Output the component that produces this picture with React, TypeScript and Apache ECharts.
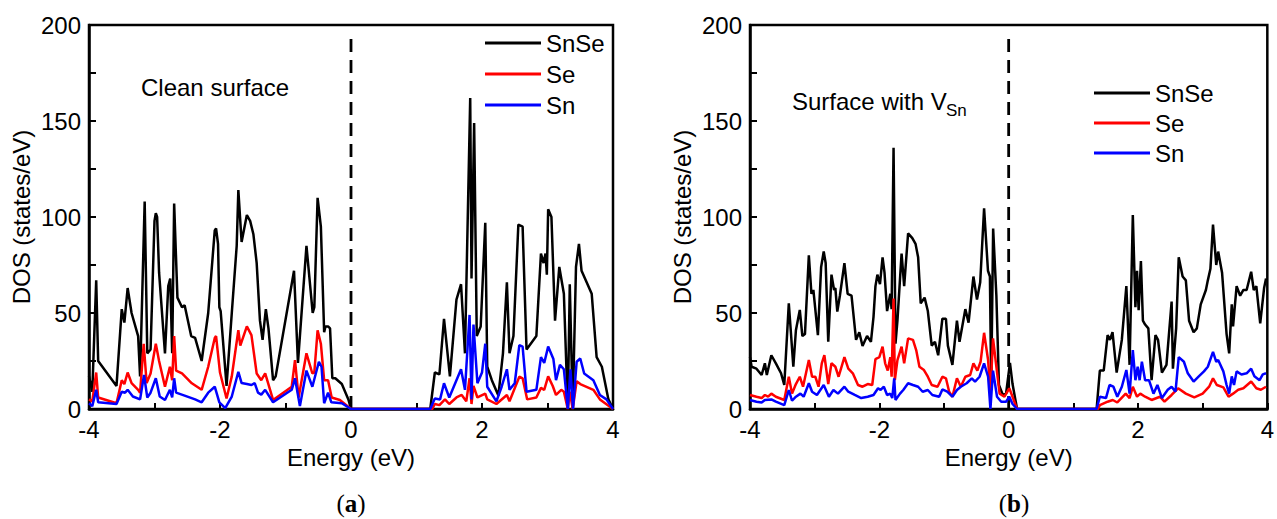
import React, { useEffect, useRef } from "react";
import * as echarts from "echarts";

// ---------- data ----------
const seriesNames = ["SnSe", "Se", "Sn"];
const seriesColors = ["#000000", "#ff0000", "#0000ff"];
const panelTitles = ["Clean surface", "Surface with V"];
const panelSub = "Sn";
const captionLetters = ["a", "b"];
const fermiLine: [number, number][] = [[0, 0], [0, 193]];

// Panel (a) clean surface: [energy eV, DOS]
const cleanSnSe: [number, number][] = [
  [-4.0, 17], [-3.95, 9], [-3.89, 67], [-3.86, 25], [-3.58, 12], [-3.5, 52], [-3.46, 45], [-3.41, 63],
  [-3.35, 50], [-3.25, 38], [-3.22, 17], [-3.15, 108], [-3.11, 29], [-3.06, 31], [-3.0, 98], [-2.98, 102],
  [-2.96, 100], [-2.93, 71], [-2.84, 29], [-2.79, 64], [-2.76, 68], [-2.73, 29], [-2.7, 107], [-2.65, 58],
  [-2.58, 53], [-2.54, 54], [-2.44, 38], [-2.38, 37], [-2.28, 25], [-2.18, 50], [-2.08, 93], [-2.06, 94],
  [-2.03, 86], [-2.01, 53], [-1.99, 51], [-1.9, 12], [-1.82, 50], [-1.745, 85], [-1.72, 114], [-1.67, 87],
  [-1.59, 101], [-1.54, 98], [-1.49, 91], [-1.44, 76], [-1.39, 46], [-1.35, 36], [-1.3, 52], [-1.26, 42],
  [-1.19, 15], [-1.15, 17], [-0.87, 72], [-0.81, 24], [-0.68, 85], [-0.585, 50], [-0.56, 53], [-0.51, 110],
  [-0.46, 95], [-0.41, 40], [-0.39, 43], [-0.35, 43], [-0.32, 42], [-0.285, 16], [-0.24, 16], [-0.14, 13],
  [-0.04, 5], [0, 0], [1.21, 0], [1.28, 19], [1.35, 18], [1.42, 47], [1.51, 17], [1.61, 57], [1.68, 65],
  [1.74, 29], [1.82, 162], [1.84, 68], [1.88, 149], [1.92, 38], [1.98, 43], [2.05, 97], [2.08, 22],
  [2.15, 15], [2.25, 7], [2.32, 29], [2.38, 66], [2.42, 29], [2.48, 38], [2.555, 96], [2.62, 95],
  [2.68, 31], [2.83, 38], [2.9, 81], [2.94, 76], [2.97, 81], [2.99, 70], [3.01, 104], [3.06, 100],
  [3.115, 46], [3.18, 74], [3.25, 60], [3.31, 0], [3.34, 65], [3.385, 0], [3.435, 74], [3.48, 86],
  [3.52, 72], [3.675, 60], [3.75, 27], [3.83, 22], [3.93, 5], [4.0, 0],
];
const cleanSe: [number, number][] = [
  [-4.0, 5], [-3.95, 4], [-3.89, 19], [-3.86, 6], [-3.58, 3], [-3.5, 15], [-3.46, 13], [-3.41, 19],
  [-3.35, 13.5], [-3.25, 10], [-3.22, 8.5], [-3.165, 34], [-3.12, 13.5], [-3.06, 18.5], [-2.98, 34],
  [-2.93, 25], [-2.84, 11.6], [-2.765, 22], [-2.73, 15], [-2.7, 38], [-2.67, 20], [-2.58, 18.5],
  [-2.43, 13.4], [-2.28, 10], [-2.18, 22], [-2.08, 37], [-2.06, 38], [-2.0, 19], [-1.9, 5.5], [-1.82, 17],
  [-1.72, 41], [-1.69, 33], [-1.59, 43], [-1.52, 38.5], [-1.44, 18.5], [-1.37, 15], [-1.31, 18.5],
  [-1.19, 4.7], [-0.905, 11.6], [-0.855, 25.5], [-0.8, 6], [-0.68, 29], [-0.59, 18.5], [-0.56, 19],
  [-0.51, 41], [-0.46, 34], [-0.41, 15], [-0.35, 15], [-0.295, 6], [-0.17, 4.7], [0, 0], [1.24, 0],
  [1.28, 2.6], [1.35, 2], [1.435, 5], [1.5, 2.6], [1.61, 6], [1.69, 7.3], [1.76, 4], [1.81, 16],
  [1.84, 2.6], [1.87, 12], [1.93, 6], [2.05, 8], [2.08, 5], [2.22, 2.6], [2.38, 7.3], [2.42, 4],
  [2.57, 16.8], [2.62, 16], [2.69, 5], [2.83, 6], [2.9, 11], [2.95, 10], [3.01, 17], [3.08, 12],
  [3.13, 7.3], [3.21, 10], [3.25, 9], [3.31, 0], [3.34, 9], [3.385, 0], [3.445, 14.5], [3.5, 13],
  [3.7, 10], [3.8, 5], [4.0, 0],
];
const cleanSn: [number, number][] = [
  [-4.0, 3], [-3.95, 1.5], [-3.89, 10], [-3.86, 3.5], [-3.58, 2.6], [-3.5, 9], [-3.45, 8.5], [-3.41, 10],
  [-3.33, 6.5], [-3.22, 5], [-3.16, 17.7], [-3.11, 6], [-3.06, 8.5], [-2.98, 16], [-2.92, 6.5],
  [-2.84, 4.7], [-2.765, 10], [-2.73, 6], [-2.7, 16], [-2.67, 8.5], [-2.54, 7], [-2.38, 5], [-2.28, 3.5],
  [-2.18, 8.5], [-2.08, 11.6], [-2.01, 3.5], [-1.92, 0.5], [-1.82, 6.5], [-1.72, 19.4], [-1.67, 13.5],
  [-1.59, 13], [-1.52, 12.5], [-1.47, 13.5], [-1.42, 8.5], [-1.37, 7.5], [-1.31, 10], [-1.19, 3.5],
  [-0.905, 10], [-0.855, 16], [-0.78, 1.5], [-0.68, 20], [-0.59, 11.6], [-0.49, 24.6], [-0.45, 22],
  [-0.41, 3], [-0.35, 8.5], [-0.3, 3.5], [-0.14, 3], [0, 0], [1.21, 0], [1.28, 5.5], [1.36, 5],
  [1.42, 13.4], [1.5, 6], [1.61, 15], [1.68, 20.7], [1.74, 10], [1.81, 49], [1.84, 5], [1.87, 44],
  [1.93, 13.4], [2.0, 19], [2.05, 34], [2.08, 11.6], [2.22, 4], [2.3, 11.6], [2.38, 20.7], [2.42, 10],
  [2.5, 13.4], [2.57, 33.3], [2.62, 32.5], [2.68, 9], [2.83, 10], [2.9, 27], [2.95, 24], [3.01, 32.5],
  [3.09, 26], [3.13, 15], [3.19, 23], [3.25, 20.7], [3.31, 0], [3.35, 20.7], [3.39, 0], [3.445, 24.6],
  [3.5, 26.3], [3.56, 18.5], [3.7, 15], [3.8, 7.3], [3.9, 5], [4.0, 0],
];

// Panel (b) surface with Sn vacancy
const vacSnSe: [number, number][] = [
  [-4.0, 27], [-3.975, 22], [-3.9, 21], [-3.82, 17.7], [-3.77, 23.8], [-3.74, 17.7], [-3.67, 28],
  [-3.6, 23.8], [-3.52, 18.6], [-3.47, 12.5], [-3.4, 55], [-3.37, 41], [-3.33, 22], [-3.29, 41],
  [-3.23, 51.6], [-3.19, 38], [-3.15, 39], [-3.09, 80], [-3.05, 60], [-3.02, 62], [-2.95, 38.5],
  [-2.9, 74], [-2.86, 82], [-2.83, 76], [-2.79, 35], [-2.74, 70], [-2.7, 62], [-2.68, 63], [-2.65, 50.7],
  [-2.61, 59], [-2.54, 76], [-2.49, 60], [-2.43, 59], [-2.36, 36], [-2.31, 40], [-2.26, 32.8],
  [-2.19, 38], [-2.13, 35], [-2.09, 48], [-2.06, 64], [-2.03, 70], [-1.99, 65], [-1.95, 79], [-1.92, 71],
  [-1.88, 51], [-1.83, 60], [-1.81, 52], [-1.78, 136], [-1.75, 34], [-1.72, 46], [-1.656, 81],
  [-1.616, 64], [-1.555, 91.5], [-1.49, 89], [-1.44, 86], [-1.4, 79], [-1.36, 55], [-1.3, 58],
  [-1.25, 51], [-1.19, 33], [-1.14, 35], [-1.09, 28], [-1.025, 47], [-0.97, 47], [-0.94, 33],
  [-0.87, 23], [-0.8, 46], [-0.76, 35], [-0.67, 52], [-0.62, 45], [-0.545, 69], [-0.49, 57],
  [-0.44, 66], [-0.38, 104.5], [-0.32, 72], [-0.29, 69], [-0.27, 11.6], [-0.24, 94], [-0.19, 59],
  [-0.15, 12.5], [-0.09, 7.3], [-0.04, 8], [0.02, 24], [0.06, 13], [0.13, 0], [1.36, 0], [1.41, 20],
  [1.47, 20], [1.53, 38.5], [1.566, 36], [1.606, 40], [1.67, 19], [1.75, 36], [1.82, 64], [1.87, 23],
  [1.92, 101], [1.96, 53], [1.985, 72], [2.01, 51.5], [2.045, 77], [2.076, 46], [2.11, 44],
  [2.16, 42], [2.21, 15], [2.27, 38.5], [2.31, 36], [2.37, 19], [2.44, 23], [2.52, 56], [2.54, 21],
  [2.59, 42], [2.63, 79], [2.69, 69], [2.74, 67], [2.79, 46], [2.86, 40], [2.91, 42], [2.97, 54.5],
  [3.05, 62], [3.08, 67], [3.12, 73], [3.16, 96], [3.21, 75], [3.24, 82], [3.3, 71], [3.37, 39],
  [3.41, 29], [3.45, 54.5], [3.47, 43], [3.525, 64], [3.58, 59], [3.63, 62], [3.68, 62], [3.75, 71.5],
  [3.79, 62], [3.83, 64], [3.89, 44.6], [3.95, 63], [3.98, 68],
];
const vacSe: [number, number][] = [
  [-4.0, 7.3], [-3.9, 6.4], [-3.82, 5.7], [-3.77, 7.3], [-3.72, 6.4], [-3.67, 8], [-3.6, 6.4],
  [-3.47, 4.7], [-3.4, 16.8], [-3.35, 8], [-3.29, 13], [-3.23, 16.8], [-3.18, 11.6], [-3.09, 25.5],
  [-3.04, 16.8], [-2.99, 16.8], [-2.94, 11.6], [-2.89, 23.8], [-2.85, 28], [-2.79, 13], [-2.74, 23.8],
  [-2.68, 22], [-2.63, 16.8], [-2.54, 27], [-2.48, 21], [-2.41, 18.6], [-2.33, 12.5], [-2.26, 11.6],
  [-2.18, 13], [-2.11, 12.5], [-2.06, 26], [-2.0, 27], [-1.95, 32.5], [-1.91, 23.8], [-1.87, 20],
  [-1.83, 27], [-1.81, 16.8], [-1.78, 57.6], [-1.76, 15], [-1.72, 25.5], [-1.656, 32.5], [-1.616, 23.8],
  [-1.555, 36.8], [-1.48, 36], [-1.43, 30.7], [-1.38, 22], [-1.31, 20.3], [-1.25, 16.8], [-1.19, 12.5],
  [-1.1, 11.6], [-1.025, 16.8], [-0.97, 16], [-0.92, 9], [-0.87, 6.4], [-0.8, 16], [-0.74, 11.6],
  [-0.67, 16.8], [-0.595, 17.7], [-0.545, 23.8], [-0.484, 20], [-0.434, 24.6], [-0.38, 39.7],
  [-0.318, 25.5], [-0.282, 8], [-0.242, 36.8], [-0.19, 22], [-0.14, 8], [-0.065, 6.4], [0.01, 10.8],
  [0.06, 6.4], [0.13, 0], [1.38, 0], [1.41, 2], [1.53, 3.8], [1.61, 4.7], [1.68, 3.4], [1.81, 8],
  [1.87, 5.7], [1.92, 11.6], [1.985, 6.4], [2.035, 8], [2.11, 6.4], [2.21, 4.7], [2.34, 6.4],
  [2.41, 3.8], [2.52, 7.3], [2.62, 10.8], [2.74, 8], [2.87, 6], [3.0, 8], [3.1, 11.6], [3.16, 16],
  [3.22, 12.5], [3.32, 11.3], [3.4, 6.4], [3.47, 8], [3.55, 10], [3.63, 10.8], [3.75, 14.3],
  [3.83, 10.8], [3.9, 10], [3.98, 11.6],
];
const vacSn: [number, number][] = [
  [-4.0, 4.7], [-3.9, 3.8], [-3.82, 3.4], [-3.77, 4.7], [-3.67, 5], [-3.6, 3.8], [-3.47, 2],
  [-3.4, 9.9], [-3.35, 4.3], [-3.29, 6.4], [-3.22, 8], [-3.17, 6.4], [-3.09, 13.4], [-3.04, 9],
  [-2.965, 7.3], [-2.86, 12.5], [-2.78, 6.4], [-2.71, 9.9], [-2.64, 8], [-2.54, 11.6], [-2.48, 9],
  [-2.38, 7.3], [-2.28, 5.7], [-2.18, 6.4], [-2.09, 7.3], [-2.02, 10.8], [-1.98, 9.9], [-1.93, 11.6],
  [-1.88, 7.3], [-1.83, 8], [-1.8, 5.7], [-1.77, 16], [-1.75, 4.7], [-1.68, 8], [-1.63, 9.9],
  [-1.555, 13.4], [-1.48, 12.5], [-1.4, 11.6], [-1.33, 9], [-1.25, 9.9], [-1.18, 7.3], [-1.075, 6.4],
  [-1.025, 10.2], [-0.95, 9], [-0.87, 6.4], [-0.8, 9.9], [-0.74, 11.6], [-0.65, 13.4], [-0.57, 16],
  [-0.52, 14.3], [-0.45, 16.8], [-0.38, 23.8], [-0.318, 16.8], [-0.282, 0], [-0.242, 20],
  [-0.18, 6.4], [-0.115, 3.8], [-0.04, 3.8], [0.01, 6.4], [0.06, 2.6], [0.13, 0], [1.36, 0],
  [1.41, 6.4], [1.505, 5.7], [1.56, 12.5], [1.62, 11.6], [1.68, 6.4], [1.75, 11.6], [1.82, 20.3],
  [1.87, 8], [1.92, 30.7], [1.96, 15], [1.995, 22], [2.025, 15], [2.06, 24.6], [2.11, 15], [2.17, 15],
  [2.24, 8], [2.3, 12.5], [2.37, 5.7], [2.46, 10], [2.52, 11.6], [2.58, 9], [2.63, 27], [2.71, 24.6],
  [2.77, 18.6], [2.86, 14.3], [2.94, 17], [3.02, 19.6], [3.08, 22], [3.16, 29.8], [3.21, 24.6],
  [3.24, 25.5], [3.32, 19.6], [3.37, 12.5], [3.41, 8], [3.45, 17], [3.485, 12.5], [3.525, 19.6],
  [3.6, 18], [3.68, 18.6], [3.75, 21], [3.8, 17], [3.88, 15], [3.93, 18], [3.98, 18.6],
];

const panelData = [
  [cleanSnSe, cleanSe, cleanSn],
  [vacSnSe, vacSe, vacSn],
];

// ---------- chart ----------
const SANS = "'Liberation Sans', Arial, Helvetica, sans-serif";
const SERIF = "'Liberation Serif', 'Times New Roman', serif";
const FS = 24;

export default function App() {
  const ref = useRef<HTMLDivElement>(null);

  useEffect(() => {
    document.body.style.margin = "0";
    if (!ref.current) return;
    const chart = echarts.init(ref.current, null, { renderer: "svg" });

    const grids = [
      { left: 89, top: 25, width: 524, height: 384 },
      { left: 750, top: 25, width: 528, height: 384 },
    ];

    const xAxis = grids.map((_, i) => ({
      type: "value",
      gridIndex: i,
      min: -4,
      max: 4,
      interval: 2,
      axisLine: { show: true, onZero: false, lineStyle: { color: "#000", width: 2.5 } },
      axisTick: { show: true, inside: true, length: 6, lineStyle: { color: "#000", width: 2 } },
      minorTick: { show: true, splitNumber: 2, length: 6, lineStyle: { color: "#000", width: 2 } },
      splitLine: { show: false },
      axisLabel: { color: "#000", fontSize: FS, fontFamily: SANS, margin: 8 },
      name: "Energy (eV)",
      nameLocation: "middle",
      nameGap: 34,
      nameTextStyle: { color: "#000", fontSize: FS, fontFamily: SANS },
    }));

    const yAxis = grids.map((_, i) => ({
      type: "value",
      gridIndex: i,
      min: 0,
      max: 200,
      interval: 50,
      axisLine: { show: true, onZero: false, lineStyle: { color: "#000", width: 2.5 } },
      axisTick: { show: true, inside: true, length: 7, lineStyle: { color: "#000", width: 2 } },
      minorTick: { show: true, splitNumber: 2, length: 7, lineStyle: { color: "#000", width: 2 } },
      splitLine: { show: false },
      axisLabel: { color: "#000", fontSize: FS, fontFamily: SANS, margin: 8 },
      name: "DOS (states/eV)",
      nameLocation: "middle",
      nameGap: 56,
      nameTextStyle: { color: "#000", fontSize: FS, fontFamily: SANS },
    }));

    const series: any[] = [];
    panelData.forEach((sets, p) => {
      series.push({
        type: "line",
        name: "fermi" + p,
        xAxisIndex: p,
        yAxisIndex: p,
        data: fermiLine,
        symbol: "none",
        silent: true,
        lineStyle: { color: "#000", width: 2.8, type: [13, 8] },
      });
      sets.forEach((d, k) => {
        series.push({
          type: "line",
          name: seriesNames[k],
          xAxisIndex: p,
          yAxisIndex: p,
          data: d,
          symbol: "none",
          showSymbol: false,
          color: seriesColors[k],
          itemStyle: { color: seriesColors[k] },
          lineStyle: { color: seriesColors[k], width: 2.5 },
        });
      });
    });

    const legendCommon = {
      data: seriesNames,
      orient: "vertical",
      icon: "rect",
      itemWidth: 56,
      itemHeight: 3,
      padding: 0,
      selectedMode: false,
      textStyle: { color: "#000", fontSize: FS, fontFamily: SANS },
    };

    const option: any = {
      animation: false,
      grid: grids.map((g) => ({ ...g, show: true, borderColor: "#000", borderWidth: 2.5, backgroundColor: "transparent" })),
      xAxis,
      yAxis,
      legend: [
        { ...legendCommon, left: 485, top: 31, itemGap: 7 },
        { ...legendCommon, left: 1094, top: 81, itemGap: 6 },
      ],
      series,
      graphic: [
        {
          type: "text",
          x: 141,
          y: 87,
          style: { text: panelTitles[0], fontSize: FS, fontFamily: SANS, fill: "#000", verticalAlign: "middle" },
        },
        {
          type: "text",
          x: 792,
          y: 101,
          style: { text: panelTitles[1], fontSize: FS, fontFamily: SANS, fill: "#000", verticalAlign: "middle" },
        },
        {
          type: "text",
          x: 946,
          y: 110,
          style: { text: panelSub, fontSize: 17, fontFamily: SANS, fill: "#000", verticalAlign: "middle" },
        },
        ...captionLetters.map((c, i) => ({
          type: "text",
          x: i === 0 ? 351 : 1014,
          y: 503,
          style: {
            text: "{n|(}{b|" + c + "}{n|)}",
            align: "center",
            verticalAlign: "middle",
            rich: {
              n: { fontSize: 25, fontFamily: SERIF, fill: "#000" },
              b: { fontSize: 25, fontFamily: SERIF, fontWeight: "bold", fill: "#000" },
            },
          },
        })),
      ],
    };

    chart.setOption(option);
    return () => chart.dispose();
  }, []);

  return <div ref={ref} style={{ width: 1277, height: 519 }} />;
}
